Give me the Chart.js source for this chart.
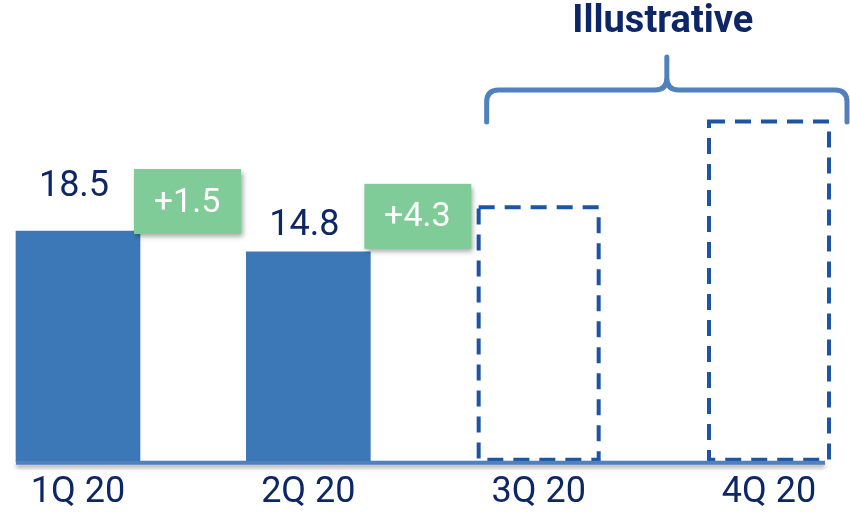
<!DOCTYPE html>
<html>
<head>
<meta charset="utf-8">
<script src="https://cdn.jsdelivr.net/npm/chart.js@4"></script>
<style>
  body { margin: 0; background: #fff; }
  #wrap { width: 850px; height: 515px; position: relative; }
</style>
</head>
<body>
<div id="wrap"><canvas id="chart"></canvas></div>
<script>
/* -----------------------
data
-------------------------- */
const quarters = ["1Q 20", "2Q 20", "3Q 20", "4Q 20"];
const values = [18.5, 14.8, 23.1, 38.3];      // 3Q / 4Q are illustrative only
const valueLabels = ["18.5", "14.8", "", ""];
const deltaLabels = ["+1.5", "+4.3", "", ""];
const illustrative = [false, false, true, true];
const yMin = -22.5;
const yMax = 40;
const titleText = "Illustrative";

const solidBlue = "#3c78b8";
const dashBlue = "#1c55a6";
const braceBlue = "#5181bd";
const navy = "#0d2766";
const green = "#80cc98";

/* -----------------------
custom drawing: axis line, dashed bars, labels, brace
-------------------------- */
const extras = {
  id: "extras",
  afterDatasetsDraw(chart) {
    const ctx = chart.ctx;
    const bars = chart.getDatasetMeta(0).data;
    const bottom = chart.chartArea.bottom;

    // dashed outline for the illustrative bars
    bars.forEach(function (bar, i) {
      if (!illustrative[i]) return;
      const left = bar.x - bar.width / 2;
      const right = bar.x + bar.width / 2;
      ctx.save();
      ctx.strokeStyle = dashBlue;
      ctx.lineWidth = 4;
      ctx.setLineDash([16, 10]);
      ctx.strokeRect(left + 2, bar.y + 2, right - left - 4, bar.base - bar.y - 4);
      ctx.restore();
    });

    // base line with a soft shadow
    const first = bars[0];
    const last = bars[bars.length - 1];
    ctx.save();
    ctx.shadowColor = "rgba(0,0,0,0.35)";
    ctx.shadowBlur = 4;
    ctx.shadowOffsetY = 3;
    ctx.strokeStyle = braceBlue;
    ctx.lineWidth = 4;
    ctx.beginPath();
    ctx.moveTo(first.x - first.width / 2, bottom + 1);
    ctx.lineTo(last.x + last.width / 2 - 6, bottom + 1);
    ctx.stroke();
    ctx.restore();

    // value labels above the bars
    const labelLift = [44, 26];
    ctx.save();
    ctx.font = "36px Roboto";
    ctx.fillStyle = navy;
    ctx.textAlign = "center";
    ctx.textBaseline = "middle";
    bars.forEach(function (bar, i) {
      if (!valueLabels[i]) return;
      ctx.fillText(valueLabels[i], bar.x - 4, bar.y - labelLift[i]);
    });
    ctx.restore();

    // green change boxes
    const boxLift = [62, 68];
    bars.forEach(function (bar, i) {
      if (!deltaLabels[i]) return;
      const bx = bar.x + bar.width / 2 - 6;
      const by = bar.y - boxLift[i];
      ctx.save();
      ctx.shadowColor = "rgba(0,0,0,0.35)";
      ctx.shadowBlur = 5;
      ctx.shadowOffsetX = 2;
      ctx.shadowOffsetY = 3;
      ctx.fillStyle = green;
      ctx.fillRect(bx, by, 107, 65);
      ctx.restore();
      ctx.save();
      ctx.font = "34px Roboto";
      ctx.fillStyle = "#ffffff";
      ctx.textAlign = "center";
      ctx.textBaseline = "middle";
      ctx.fillText(deltaLabels[i], bx + 53, by + 34);
      ctx.restore();
    });

    // curly brace over the illustrative quarters
    const bLeft = bars[2].x - bars[2].width / 2 + 10;
    const bRight = chart.width - 3;
    const mid = (bLeft + bRight) / 2;
    const yEnd = 122, yBar = 90, yTip = 57, r = 12;
    ctx.save();
    ctx.strokeStyle = braceBlue;
    ctx.lineWidth = 5;
    ctx.lineCap = "round";
    ctx.beginPath();
    ctx.moveTo(bLeft, yEnd);
    ctx.lineTo(bLeft, yBar + r);
    ctx.quadraticCurveTo(bLeft, yBar, bLeft + r, yBar);
    ctx.lineTo(mid - r, yBar);
    ctx.quadraticCurveTo(mid, yBar, mid, yBar - r);
    ctx.lineTo(mid, yTip);
    ctx.moveTo(mid, yBar - r);
    ctx.quadraticCurveTo(mid, yBar, mid + r, yBar);
    ctx.lineTo(bRight - r, yBar);
    ctx.quadraticCurveTo(bRight, yBar, bRight, yBar + r);
    ctx.lineTo(bRight, yEnd);
    ctx.stroke();
    ctx.restore();

    // title above the brace
    ctx.save();
    ctx.font = "bold 38px Roboto";
    ctx.fillStyle = navy;
    ctx.textAlign = "center";
    ctx.textBaseline = "middle";
    ctx.fillText(titleText, mid - 4, 22);
    ctx.restore();
  }
};

/* -----------------------
bar chart
-------------------------- */
const barChart = document.getElementById("chart");

new Chart(barChart, {
  type: "bar",
  data: {
    labels: quarters,
    datasets: [{
      data: values,
      base: yMin,
      backgroundColor: values.map(function (v, i) {
        return illustrative[i] ? "rgba(0,0,0,0)" : solidBlue;
      }),
      borderWidth: 0,
      barThickness: 124,
      clip: false
    }]
  },
  options: {
    responsive: true,
    maintainAspectRatio: false,
    animation: false,
    layout: { padding: { top: 110, left: 78, right: 81, bottom: -10 } },
    plugins: {
      legend: { display: false },
      tooltip: { enabled: false }
    },
    scales: {
      x: {
        offset: false,
        grid: { display: false, drawTicks: false, tickLength: 0 },
        border: { display: false },
        ticks: {
          color: navy,
          font: { family: "Roboto", size: 36 },
          padding: 10,
          maxRotation: 0,
          autoSkip: false
        }
      },
      y: {
        display: false,
        min: yMin,
        max: yMax
      }
    }
  },
  plugins: [extras]
});
</script>
</body>
</html>
